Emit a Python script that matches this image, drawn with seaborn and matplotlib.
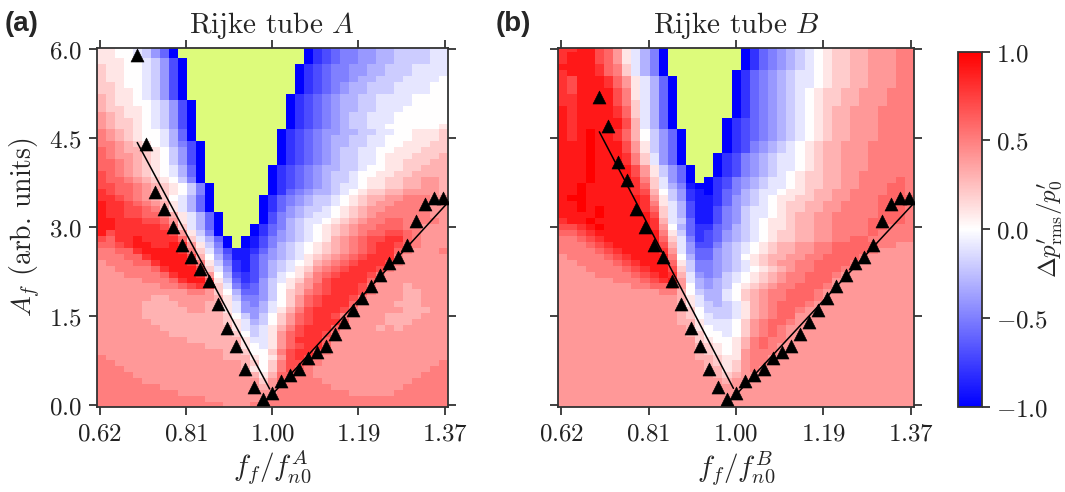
import numpy as np
import matplotlib
matplotlib.use("Agg")
import matplotlib.pyplot as plt
import seaborn as sns

# ---------------- data ----------------
# forcing frequency (cell centres, f_f / f_n0)
freq = [0.62, 0.64, 0.66, 0.68, 0.70, 0.72, 0.74, 0.76, 0.78, 0.80,
        0.82, 0.84, 0.86, 0.88, 0.90, 0.92, 0.94, 0.96, 0.98, 1.00,
        1.02, 1.04, 1.06, 1.08, 1.10, 1.12, 1.14, 1.16, 1.18, 1.20,
        1.22, 1.24, 1.26, 1.28, 1.30, 1.32, 1.34, 1.36, 1.38]
# forcing amplitude rows, listed from top (6.0) to bottom (0.0)
amp_rows = [6.0, 5.9, 5.8, 5.7, 5.6, 5.5, 5.4, 5.3, 5.2, 5.1, 5.0, 4.9, 4.8,
            4.7, 4.6, 4.5, 4.4, 4.3, 4.2, 4.1, 4.0, 3.9, 3.8, 3.7, 3.6, 3.5,
            3.4, 3.3, 3.2, 3.1, 3.0, 2.9, 2.8, 2.7, 2.6, 2.5, 2.4, 2.3, 2.2,
            2.1, 2.0, 1.9, 1.8, 1.7, 1.6, 1.5, 1.4, 1.3, 1.2, 1.1, 1.0, 0.9,
            0.8, 0.7, 0.6, 0.5, 0.4, 0.3, 0.2, 0.1, 0.0]

# cell codes: '0'..'9' = 0.0..0.9, 'X' = 1.0, 'a'..'j' = -0.1..-1.0, '#' = lock-in (green)
field_A = [
    "1100abdfj ############## jhgfeeddccbbbbaa",
    "1100abdfj ############## jhgfeeddccbbbbaa",
    "11100abdgj ############# jhgfeeddccbbbbaa",
    "21100abdgj ############ jhgfeeddccbbbaaaa",
    "21100abdgj ############ jhgfeeddccbbbaaaa",
    "21100abdgj ############ jhgfeedccbbbaaaa0",
    "22100abdgj ############ jhgfedccbbbaaaa00",
    "22110abdgj ############ jhgfedccbbbaaaa00",
    "32110abdgj ########### jhgfedccbbaaaa0000",
    "321100abdgj ########## jhgfedccbbaaaa0000",
    "322110abdgj ########## jhgfedccbbaaa00000",
    "432110abdgj ########## jhgfedcbbaaa000000",
    "432210abdgj ########## jhgfedcbbaaa000000",
    "432210abdgj ########## jhgfedcbbaa0000001",
    "5432100acfj ######### jhgfeddccbbaa001112",
    "5432100acfj ######### jhgfedccbbaa0001112",
    "5543210acegj ######## jhgfedccbbaa0011122",
    "65433210bdgj ######## jhgfedcbbaa00111222",
    "65443210bdgj ######## jhgfedcbbaa01112223",
    "66543210bdgj ######## jhgfedcbbaa01122233",
    "66543210acfj ####### jhgfedccbba001122333",
    "76543210acfj ####### jhgfedcbba0011223333",
    "766543210bej ####### jhgfedcbba0112233443",
    "7766543210bej ###### jhgfedcbaa0112233443",
    "8766543210bej ###### jhfedccba01223344443",
    "887654320acfj ##### jhfedcbba012334455544",
    "988765431acfj ##### jhfedcbba012344555544",
    "988776531acfj ##### jhfdcbba0123445555544",
    "9887766531acfj #### jgedcbaa0123455555544",
    "9988877641acfj #### jgecbaa01234556655554",
    "9988888752acfj ### jhfecba012345566655444",
    "97888888741bej ### jhfdcba012345667765444",
    "76889888862acfj # jigedcba013456778865444",
    "667899889841bej # jigecba0123456788765444",
    "5566899998 52adg iihfdcba 0123456788 654445",
    "5556689999 730cf iigedcba 1234567888 544444",
    "4555668999 851be higecba0 1345678887 544444",
    "4455556899 972ad higecba1 2456788875 444444",
    "4445555689 9840c ghgeca01 3567888754 444444",
    "4444455568 9961b fhgdba12 4578888644 444444",
    "4444444556 7872a egfdb013 4678887544 434444",
    "4444444444 55420 cffdb023 5678887544 433444",
    "4444443344 44431 beedb024 6788875444 433444",
    "4444433334 44331 adeca024 6788864444 333444",
    "4444433333 44331 addca135 7888754444 433344",
    "4444433333 33332 0bdb0246 7887544443 333444",
    "4444443333 33332 1acb0246 7888644443 334444",
    "4444444333 33333 1aba1357 8886444434 344444",
    "4444444433 33333 20ba1467 8875444444 444444",
    "4444444444 33333 31aa1468 8864444444 444444",
    "4444444444 44333 310a1467 8864444444 444444",
    "4444444444 44443 32002578 8654444444 444444",
    "5444444444 44443 33101478 7544444444 444444",
    "5544444444 44444 43202577 6544444444 444445",
    "5554444444 44444 43102576 5444444444 444455",
    "5555444444 44444 44313665 5444444444 444555",
    "5555544444 44444 44424655 5544444444 445555",
    "5555555444 44444 44434555 5554444444 455555",
    "5555555554 44444 44444555 5555544444 555555",
    "5555555555 55444 44445555 5555555555 555555",
    "5555555555 55554 44555555 5555555555 555555",
]

field_B = [
    "88997641acej ######## jhfedcba01223344455",
    "89997641acej ######## jhfedcba01223344455",
    "89997641acej ######## jhfedcba01223344455",
    "99998652acej ######## jhfedcba01223344455",
    "89998652acej ####### jhfedcbaa01223344455",
    "879998641acfj ###### jhfedcbaa01223344455",
    "879998641acfj ###### jhfedcbaa01223344455",
    "879999751acfj ###### jhfedcba012233444555",
    "889999751acfj ###### jhfedcba012233444555",
    "889999752acfj ###### jhfedcba012233444555",
    "989999862acfj ###### jhfedcba012334445555",
    "989999862acfj ###### jhfedcba012334445555",
    "989999973acfj ##### jhgfedcba012334445555",
    "989999973acfj ##### jhgfedcba012334445555",
    "989X998630bdfj #### jhgfedcba012334445555",
    "989X998630bdfj #### jhgfedcba012334445555",
    "999X999741bdfj #### jhgedcba0123344455555",
    "999X999741bdfj #### jhgedcba0123344455555",
    "999X999852adfj ### jhgedcbaa0123344455555",
    "999X999852adfj ### jhgedcbaa0123344455555",
    "999X9999741bdfj ## jhgedcbaa0123344455555",
    "999X9999741bdfj ## jhgedcba01223344555555",
    "999X9999852adfj # jhgedcbaa01223344555565",
    "99X9999986 2acei jjhgedcb aa01223344 555665",
    "99X9999987 30bdh ijhfecba a011233445 555665",
    "9XX9999998 41bdh iihfdcba 0112233445 556666",
    "99X9999998 51acg iihfdcba 0122334455 556665",
    "99X9X99998 62acg iigedbaa 0122334455 556665",
    "9999X99999 72acg iigedbaa 0123344555 556665",
    "899X999999 83abf iigedba0 1123344555 566665",
    "7789X99999 840cf hhfecba0 1123344555 566555",
    "6678999999 951bf hgfdcba0 1223344555 565555",
    "5567899999 962ae hgfdcba0 1223344556 655555",
    "5556789999 973ad ggecba01 2334455666 665544",
    "5555678999 984ad ffdcba01 2334455666 654444",
    "4555567899 9950c ffdcb012 3344556666 544444",
    "4455556789 9961b eedcba12 3445566665 444444",
    "4445555678 9972b eedcba01 2345566654 444444",
    "4444555567 8983a dedba012 3455666544 444444",
    "4444445556 7894a cdcba012 3455666444 444444",
    "4444444455 66740 cdcb0123 4556665444 444444",
    "4444444444 45530 bcca0234 5566654444 444444",
    "4444444444 44431 acca0234 5566654444 444444",
    "4444444444 44431 abcba134 5666544444 444444",
    "4444444444 44432 0bbba134 5665444444 444444",
    "4444444444 44432 0abba134 5664444444 444444",
    "4444444444 44433 1aaa0245 6654444444 444444",
    "4444444444 44443 10aa0245 6544444444 444444",
    "4444444444 44443 200a0245 6544444444 444444",
    "4444444444 44444 21001356 5544444444 444444",
    "4444444444 44444 32101356 5444444444 444444",
    "4444444444 44444 32101455 5444444444 444444",
    "4444444444 44444 33211455 4444444444 444444",
    "4444444444 44444 43212455 4444444444 444444",
    "4444444444 44444 43312454 4444444444 444444",
    "4444444444 44444 44323444 4444444444 444444",
    "4444444444 44444 44434444 4444444444 444444",
    "4444444444 44444 44444444 4444444444 444444",
    "4444444444 44444 44444444 4444444444 444444",
    "4444444444 44444 44444444 4444444444 444444",
    "4444444444 44444 44444444 4444444444 444444",
]

# synchronisation boundary markers (triangles)
tri_left_x = [0.70, 0.72, 0.74, 0.76, 0.78, 0.80, 0.82, 0.84, 0.86, 0.88,
              0.90, 0.92, 0.94, 0.96, 0.98]
tri_right_x = [1.00, 1.02, 1.04, 1.06, 1.08, 1.10, 1.12, 1.14, 1.16, 1.18,
               1.20, 1.22, 1.24, 1.26, 1.28, 1.30, 1.32, 1.34, 1.36, 1.38]
A_left_y = [5.9, 4.4, 3.6, 3.3, 3.0, 2.7, 2.5, 2.3, 2.1, 1.7, 1.3, 1.0, 0.6, 0.3, 0.1]
A_right_y = [0.2, 0.4, 0.5, 0.6, 0.8, 0.9, 1.0, 1.2, 1.4, 1.6, 1.8, 2.0, 2.2, 2.4,
             2.5, 2.7, 3.1, 3.4, 3.5, 3.5]
B_left_y = [5.2, 4.7, 4.1, 3.8, 3.3, 3.0, 2.7, 2.5, 2.1, 1.7, 1.3, 1.0, 0.6, 0.3, 0.1]
B_right_y = [0.2, 0.4, 0.5, 0.6, 0.8, 0.9, 1.0, 1.2, 1.4, 1.6, 1.8, 2.0, 2.2, 2.4,
             2.5, 2.7, 3.1, 3.4, 3.5, 3.5]

# fitted boundary lines (end points)
A_line_left_x, A_line_left_y = [0.700, 0.994], [4.43, 0.27]
A_line_right_x, A_line_right_y = [1.000, 1.395], [0.18, 3.46]
B_line_left_x, B_line_left_y = [0.700, 0.994], [4.61, 0.28]
B_line_right_x, B_line_right_y = [1.003, 1.395], [0.20, 3.45]

xtick_pos = [0.617, 0.808, 1.000, 1.191, 1.383]
xtick_labels = ["0.62", "0.81", "1.00", "1.19", "1.37"]
ytick_pos = [0.0, 1.5, 3.0, 4.5, 6.0]
ytick_labels = ["0.0", "1.5", "3.0", "4.5", "6.0"]
cbar_ticks = [-1.0, -0.5, 0.0, 0.5, 1.0]
cbar_labels = ["-1.0", "-0.5", "0.0", "0.5", "1.0"]

LOCK_COLOR = "#ddfb7b"
EDGE = "#333333"

# ---------------- decode ----------------
LEVELS = {"#": np.nan, "X": 1.0}
for k, ch in enumerate("0123456789"):
    LEVELS[ch] = k / 10.0
for k, ch in enumerate("abcdefghij"):
    LEVELS[ch] = -(k + 1) / 10.0


def decode(rows):
    out = []
    for i, r in enumerate(rows):
        r = r.replace(" ", "")
        if len(r) != len(freq):
            raise ValueError(f"row {i} has {len(r)} cells: {r}")
        out.append([LEVELS[c] for c in r])
    if len(out) != len(amp_rows):
        raise ValueError(f"{len(out)} rows")
    return np.array(out)


Z_A = decode(field_A)[::-1]
Z_B = decode(field_B)[::-1]
amp = amp_rows[::-1]

# ---------------- style ----------------
sns.set_theme(style="ticks")
plt.rcParams["mathtext.fontset"] = "cm"
plt.rcParams["font.family"] = ["DejaVu Sans"]

cmap = plt.get_cmap("bwr").copy()
cmap.set_bad(LOCK_COLOR)

fig = plt.figure(figsize=(10.65, 4.92), dpi=100)
axA = fig.add_axes([96.7 / 1065, 1 - 406.7 / 492, 351.3 / 1065, 358.4 / 492])
axB = fig.add_axes([558.3 / 1065, 1 - 406.7 / 492, 355.7 / 1065, 358.4 / 492])
cax = fig.add_axes([958.3 / 1065, 1 - 406.7 / 492, 23.4 / 1065, 355.0 / 492])


def math(s):
    return "$" + s + "$"


panels = [
    (axA, Z_A, A_left_y, A_right_y, (A_line_left_x, A_line_left_y),
     (A_line_right_x, A_line_right_y), "A"),
    (axB, Z_B, B_left_y, B_right_y, (B_line_left_x, B_line_left_y),
     (B_line_right_x, B_line_right_y), "B"),
]

mesh = None
for ax, Z, ly, ry, ll, rl, tag in panels:
    mesh = ax.pcolormesh(freq, amp, np.ma.masked_invalid(Z), cmap=cmap,
                         vmin=-1, vmax=1, shading="nearest", zorder=1)
    sns.lineplot(x=ll[0], y=ll[1], color="black", linewidth=1.1, ax=ax,
                 zorder=3, sort=False)
    sns.lineplot(x=rl[0], y=rl[1], color="black", linewidth=1.1, ax=ax,
                 zorder=3, sort=False)
    sns.scatterplot(x=tri_left_x, y=ly, marker="^", s=88, color="black",
                    edgecolor="black", linewidth=0.4, ax=ax, zorder=4, legend=False)
    sns.scatterplot(x=tri_right_x, y=ry, marker="^", s=88, color="black",
                    edgecolor="black", linewidth=0.4, ax=ax, zorder=4, legend=False)
    ax.set_xlim(0.61, 1.39)
    ax.set_ylim(-0.03, 6.02)
    ax.set_xticks(xtick_pos)
    ax.set_xticklabels([math(t) for t in xtick_labels])
    ax.set_yticks(ytick_pos)
    if tag == "A":
        ax.set_yticklabels([math(t) for t in ytick_labels])
        ax.set_ylabel(r"$A_f$ (arb. units)", fontfamily="cmr10", fontsize=20,
                      labelpad=4)
    else:
        ax.set_yticklabels([])
    ax.set_xlabel(r"$f_f/f^{%s}_{n0}$" % tag, fontsize=21, labelpad=2)
    ax.set_title(r"Rijke tube $%s$" % tag, fontfamily="cmr10", fontsize=21, pad=11)
    ax.tick_params(direction="out", length=6, width=1.3, color=EDGE,
                   top=True, right=True, labeltop=False, labelright=False,
                   labelsize=18, pad=5, labelcolor="#222222")
    for sp in ax.spines.values():
        sp.set_color(EDGE)
        sp.set_linewidth(1.3)
    ax.set_facecolor("white")

cb = fig.colorbar(mesh, cax=cax, ticks=cbar_ticks)
cb.ax.set_yticklabels([math(t) for t in cbar_labels])
cb.ax.tick_params(direction="out", length=6, width=1.3, color=EDGE,
                  labelsize=18, pad=4, labelcolor="#222222")
cb.outline.set_edgecolor(EDGE)
cb.outline.set_linewidth(1.3)
cb.set_label(r"$\Delta p^{\prime}_{\rm rms}/p^{\prime}_{0}$", fontsize=18)
cb.ax.yaxis.set_label_coords(3.32, 0.5)

fig.text(0.004, 0.951, "(a)", fontsize=20, fontweight="bold",
         family="Liberation Sans", va="center", ha="left")
fig.text(0.465, 0.951, "(b)", fontsize=20, fontweight="bold",
         family="Liberation Sans", va="center", ha="left")

fig.savefig("out.png", dpi=100)
